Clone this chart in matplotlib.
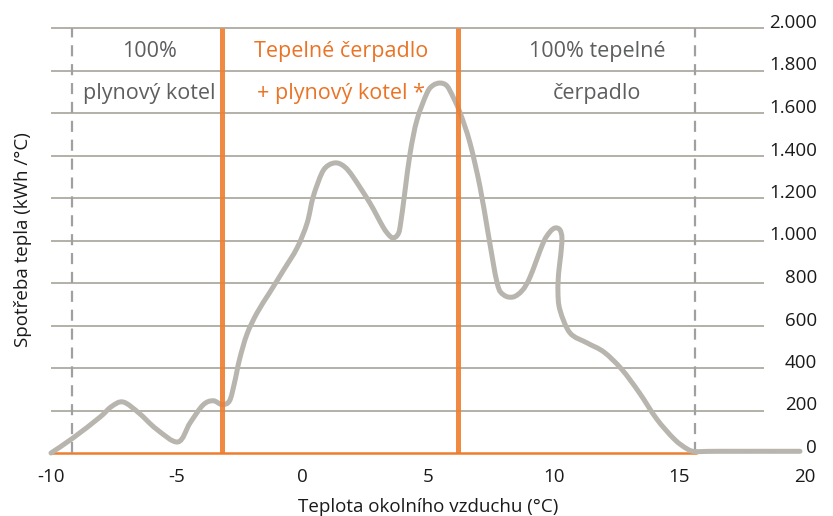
"""Heat demand vs outdoor temperature, with heat pump / gas boiler zones."""

import matplotlib.pyplot as plt
from matplotlib.patches import PathPatch
from matplotlib.path import Path
from matplotlib.transforms import ScaledTranslation

plt.rcParams["font.family"] = ["Open Sans", "DejaVu Sans"]

# values
temp = [-10.0, -9.12, -8.05, -7.6, -7.13, -6.5, -5.8, -4.95, -4.47, -3.95,
        -3.55, -3.2, -2.9, -2.7, -2.5, -2.2, -1.8, -1.3, -0.75, -0.21,
        0.19, 0.43, 0.78, 1.05, 1.38, 1.7, 2.02, 2.69, 3.21, 3.45,
        3.61, 3.78, 3.89, 4.09, 4.29, 4.56, 4.96, 5.2, 5.48, 5.75,
        6.0, 6.28, 6.67, 7.07, 7.39, 7.75, 8.0, 8.38, 8.75, 9.06,
        9.58, 9.85, 10.06, 10.25, 10.33, 10.28, 10.2, 10.17, 10.25, 10.65,
        11.33, 12.0, 12.7, 13.4, 14.1, 14.8, 15.3, 15.63, 16.5, 19.8]
demand = [0, 71, 169, 218, 240, 188, 112, 52, 141, 226,
          246, 228, 245, 330, 440, 560, 660, 755, 860, 965,
          1082, 1205, 1318, 1355, 1365, 1345, 1299, 1176, 1064, 1025,
          1012, 1025, 1064, 1238, 1412, 1567, 1694, 1730, 1741, 1728,
          1675, 1600, 1459, 1252, 1035, 800, 745, 734, 765, 828,
          988, 1040, 1059, 1050, 1010, 930, 850, 760, 673, 565,
          518, 475, 395, 285, 160, 65, 20, 7, 8, 8]

xticks = [-10, -5, 0, 5, 10, 15, 20]
yticks = [0, 200, 400, 600, 800, 1000, 1200, 1400, 1600, 1800, 2000]
zone_limits = [-3.2, 6.2]        # orange borders
range_limits = [-9.15, 15.63]    # dashed borders
zone_x = [-6.1, 1.54, 11.73]
zone_top = ["100%", "Tepelné čerpadlo", "100% tepelné"]
zone_bottom = ["plynový kotel", "+ plynový kotel *", "čerpadlo"]
zone_colors = ["#5d5e60", "#ea7325", "#5d5e60"]

GREY_LINE = "#b7b5ad"
GRID = "#b3b0a8"
ORANGE = "#ef7d2e"
INK = "#1a1a1a"


def smooth_path(xs, ys):
    """Catmull-Rom curve through the points, as cubic Bezier segments."""
    pts = list(zip(xs, ys))
    verts = [pts[0]]
    codes = [Path.MOVETO]
    for i in range(len(pts) - 1):
        p0 = pts[i - 1] if i > 0 else pts[i]
        p1, p2 = pts[i], pts[i + 1]
        p3 = pts[i + 2] if i + 2 < len(pts) else p2
        c1 = (p1[0] + (p2[0] - p0[0]) / 6, p1[1] + (p2[1] - p0[1]) / 6)
        c2 = (p2[0] - (p3[0] - p1[0]) / 6, p2[1] - (p3[1] - p1[1]) / 6)
        verts += [c1, c2, p2]
        codes += [Path.CURVE4] * 3
    return Path(verts, codes)


fig = plt.figure(figsize=(8.33, 5.16), dpi=100)
ax = fig.add_axes([51 / 833, 63 / 516, 754 / 833, 425 / 516])
ax.set_xlim(-10, 20)
ax.set_ylim(0, 2000)
for s in ax.spines.values():
    s.set_visible(False)

ax.hlines(yticks[1:], -10, 18.35, color=GRID, lw=1.4, zorder=1, clip_on=False)
ax.hlines(0, -10, 15.7, color=ORANGE, lw=1.8, zorder=2, clip_on=False)
ax.vlines(range_limits, 0, 2000, color="#a0a0a0", lw=1.6,
          linestyles=(0, (5, 3.5)), zorder=2)

curve = PathPatch(smooth_path(temp, demand), facecolor="none", edgecolor=GREY_LINE,
                  lw=3.6, joinstyle="round", capstyle="round", zorder=3,
                  clip_on=False)
ax.add_patch(curve)

ax.vlines(zone_limits, 0, 2000, color=ORANGE, lw=3.6, alpha=0.9, zorder=4)

for x, top, bottom, c in zip(zone_x, zone_top, zone_bottom, zone_colors):
    ax.text(x, 1890, top, ha="center", va="center", fontsize=15.5, color=c)
    ax.text(x, 1690, bottom, ha="center", va="center", fontsize=15.5, color=c)

ax.set_xticks(xticks)
ax.set_xticklabels([str(t) for t in xticks])
ax.tick_params(axis="x", length=0, pad=11, labelsize=13.5, colors=INK)
ax.set_yticks([])

# y labels sit right of the grid, a little above their lines
lift = ScaledTranslation(0, 5 / 100, fig.dpi_scale_trans)
for v in yticks:
    label = f"{v:,}".replace(",", ".")
    ax.text(1.016, v, label, transform=ax.get_yaxis_transform() + lift,
            ha="right", va="center", fontsize=13.5, color=INK)

fig.text(428 / 833, 4 / 516, "Teplota okolního vzduchu (°C)", ha="center",
         va="baseline", fontsize=13.5, color=INK)
fig.text(23 / 833, 1 - 240 / 516, "Spotřeba tepla (kWh /°C)", rotation=90,
         ha="center", va="center", fontsize=13.5, color=INK)

fig.savefig("out.png", dpi=100)
